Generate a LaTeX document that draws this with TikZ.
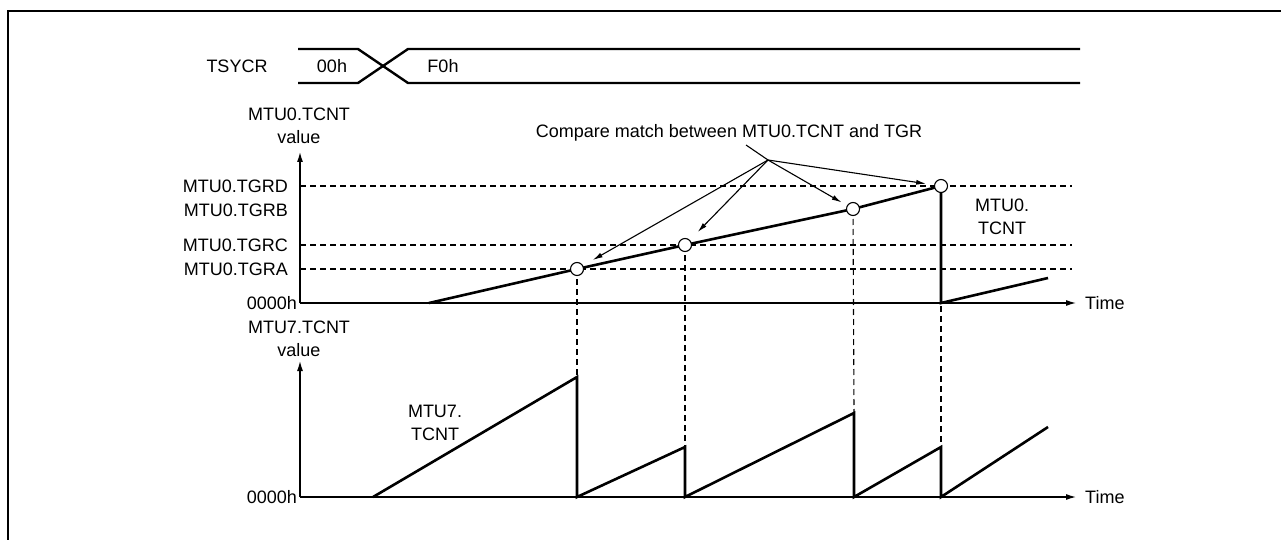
\documentclass[tikz,border=0pt]{standalone}
\usepackage{fontspec}
\setmainfont{Liberation Sans}
\usetikzlibrary{arrows.meta}
\tikzset{
  lbl/.style={font=\fontsize{18}{22.5}\selectfont, inner sep=0pt, align=center},
  thick line/.style={line width=2.6pt, line join=miter},
  dash line/.style={line width=1.1pt, dash pattern=on 6pt off 4pt},
  axis/.style={line width=1.2pt, -{Latex[length=10pt,width=6pt]}},
  callout/.style={line width=1.1pt, -{Latex[length=10pt,width=5pt]}},
  circ/.style={circle, draw, line width=1.1pt, fill=white, minimum size=13pt, inner sep=0pt},
  bus/.style={line width=2.4pt}
}
\begin{document}
\begin{tikzpicture}[x=1pt,y=-1pt]
\useasboundingbox (0,0) rectangle (1281,540);
% frame
\draw[line width=2.8pt] (1281,11) -- (8,11) -- (8,540);
% TSYCR bus
\node[lbl] (tsy) at (237,66) {TSYCR};
\coordinate (b0t) at (298,49); \coordinate (b0b) at (298,83);
\coordinate (b1t) at (358,49); \coordinate (b1b) at (358,83);
\coordinate (b2t) at (408,49); \coordinate (b2b) at (408,83);
\coordinate (b3t) at (1080,49); \coordinate (b3b) at (1080,83);
\draw[bus] (b0t) -- (b1t) -- (b2b) -- (b3b);
\draw[bus] (b0b) -- (b1b) -- (b2t) -- (b3t);
\node[lbl] (v00) at (332,66) {00h};
\node[lbl] (vF0) at (443,66) {F0h};
% top chart axes
\coordinate (o0) at (300,303);
\coordinate (y0) at (300,152);
\coordinate (x0) at (1076,303);
\draw[axis] (o0) -- (y0);
\draw[axis] (o0) -- (x0);
\node[lbl] (ylab0) at (299,126) {MTU0.TCNT\\value};
\node[lbl, anchor=east] (z0) at (297,303) {0000h};
\node[lbl, anchor=west] (t0) at (1085,303) {Time};
\node[lbl, anchor=east] (lD) at (288,186) {MTU0.TGRD};
\node[lbl, anchor=east] (lB) at (288,210) {MTU0.TGRB};
\node[lbl, anchor=east] (lC) at (288,245) {MTU0.TGRC};
\node[lbl, anchor=east] (lA) at (288,269) {MTU0.TGRA};
\coordinate (hD1) at (300,186); \coordinate (hD2) at (1072,186);
\coordinate (hC1) at (300,245); \coordinate (hC2) at (1072,245);
\coordinate (hA1) at (300,269); \coordinate (hA2) at (1072,269);
\draw[dash line] (hD1) -- (hD2);
\draw[dash line] (hC1) -- (hC2);
\draw[dash line] (hA1) -- (hA2);
% bottom chart axes
\coordinate (o7) at (300,497);
\coordinate (y7) at (300,361);
\coordinate (x7) at (1076,497);
\draw[axis] (o7) -- (y7);
\draw[axis] (o7) -- (x7);
\node[lbl] (ylab7) at (299,339) {MTU7.TCNT\\value};
\node[lbl, anchor=east] (z7) at (297,497) {0000h};
\node[lbl, anchor=west] (t7) at (1085,497) {Time};
% MTU0 counter points
\coordinate (s0) at (429,303);
\coordinate (pA) at (577,269);
\coordinate (pC) at (685,245);
\coordinate (pB) at (853,209);
\coordinate (pD) at (941,186);
\coordinate (r0) at (941,303);
\coordinate (e0) at (1048,278);
% MTU7 sawtooth points
\coordinate (s7) at (373,497);
\coordinate (qA) at (577,377); \coordinate (qA0) at (577,497);
\coordinate (qC) at (685,447); \coordinate (qC0) at (685,497);
\coordinate (qB) at (854,413); \coordinate (qB0) at (854,497);
\coordinate (qD) at (941,447); \coordinate (qD0) at (941,497);
\coordinate (e7) at (1048,427);
% vertical dashed links
\draw[dash line] (pA) -- (qA);
\draw[dash line] (pC) -- (qC);
\draw[dash line] (pB) -- (qB);
\draw[dash line] (pD) -- (qD);
% thick traces
\draw[thick line] (s0) -- (pA) -- (pC) -- (pB) -- (pD) -- (r0) -- (e0);
\draw[thick line] (s7) -- (qA) -- (qA0) -- (qC) -- (qC0) -- (qB) -- (qB0) -- (qD) -- (qD0) -- (e7);
% circles
\node[circ] (cA) at (pA) {};
\node[circ] (cC) at (pC) {};
\node[circ] (cB) at (pB) {};
\node[circ] (cD) at (pD) {};
% labels
\node[lbl] (m0) at (1002,217) {MTU0.\\TCNT};
\node[lbl] (m7) at (435,423) {MTU7.\\TCNT};
% callout
\node[lbl] (cm) at (729,133) {Compare match between MTU0.TCNT and TGR};
\coordinate (cs) at (746,145);
\coordinate (J) at (768,160);
\draw[line width=1.1pt] (cs) -- (J);
\draw[callout, shorten >=11pt] (J) -- (cA);
\draw[callout, shorten >=11pt] (J) -- (cC);
\draw[callout, shorten >=6pt] (J) -- (cB);
\draw[callout, shorten >=8pt] (J) -- (cD);
\end{tikzpicture}
\end{document}
